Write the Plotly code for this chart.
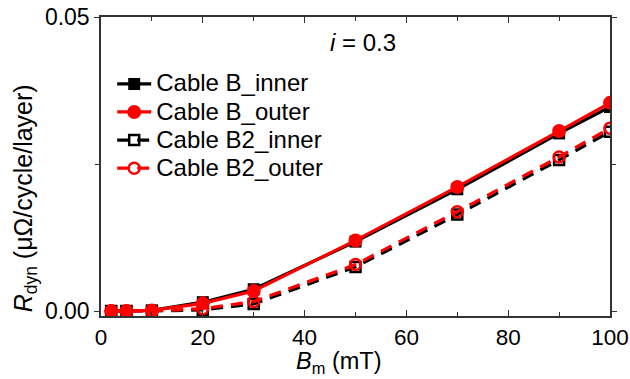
import plotly.graph_objects as go

bm = [2, 5, 10, 20, 30, 50, 70, 90, 100]
b_inner = [0.0, 0.0, 0.0001, 0.0015, 0.0037, 0.0118, 0.0207, 0.0302, 0.0347]
b_outer = [0.0, 0.0, 0.0001, 0.0013, 0.0034, 0.0120, 0.0211, 0.0306, 0.0354]
b2_inner = [0.0, 0.0, 0.0, 0.0002, 0.0012, 0.0075, 0.0164, 0.0257, 0.0305]
b2_outer = [0.0, 0.0, 0.0, 0.0004, 0.0016, 0.0079, 0.0169, 0.0262, 0.0311]

FONT = "Liberation Sans, Arial, sans-serif"
RED = "#ff0000"
AX = "#333333"


def lbl(s):
    return "<span style='font-size:24px'>" + s + "</span>"


fig = go.Figure()
fig.add_trace(go.Scatter(x=bm, y=b_inner, name=lbl("Cable B_inner"), mode="lines+markers",
                         line=dict(color="black", width=3.2),
                         marker=dict(symbol="square", size=12, color="black"), legendrank=1))
fig.add_trace(go.Scatter(x=bm, y=b2_inner, name=lbl("Cable B2_inner"), mode="lines+markers",
                         line=dict(color="black", width=3.2, dash="12px,8px"),
                         marker=dict(symbol="square-open", size=10, color="black",
                                     line=dict(width=2.5)), legendrank=3))
fig.add_trace(go.Scatter(x=bm, y=b_outer, name=lbl("Cable B_outer"), mode="lines+markers",
                         line=dict(color=RED, width=3.2),
                         marker=dict(symbol="circle", size=14, color=RED), legendrank=2))
fig.add_trace(go.Scatter(x=bm, y=b2_outer, name=lbl("Cable B2_outer"), mode="lines+markers",
                         line=dict(color=RED, width=3.2, dash="12px,8px"),
                         marker=dict(symbol="circle-open", size=11, color=RED,
                                     line=dict(width=2.5)), legendrank=4))

fig.update_layout(
    width=630, height=379,
    margin=dict(l=101, r=20, t=17, b=63, autoexpand=False),
    paper_bgcolor="white", plot_bgcolor="white",
    font=dict(family=FONT, size=22, color="black"),
    showlegend=True,
    legend=dict(x=0.022, y=0.84, xanchor="left", yanchor="top",
                bgcolor="rgba(0,0,0,0)", font=dict(size=19.3, family=FONT),
                itemwidth=34, tracegroupgap=0),
    xaxis=dict(range=[0, 100], tickvals=[0, 20, 40, 60, 80, 100],
               ticks="inside", ticklen=6, tickwidth=1, tickcolor=AX,
               showline=True, linecolor=AX, linewidth=1.5, mirror="ticks",
               showgrid=False, zeroline=False, automargin=False,
               minor=dict(dtick=10, ticks="inside", ticklen=4, tickcolor=AX),
               tickfont=dict(size=22.5, family=FONT)),
    yaxis=dict(range=[-0.00085, 0.05], tickvals=[0, 0.05], ticktext=["0.00", "0.05"],
               ticks="outside", ticklen=5, tickwidth=1, tickcolor=AX,
               showline=True, linecolor=AX, linewidth=1.5, mirror="ticks",
               showgrid=False, zeroline=False, automargin=False,
               minor=dict(tickvals=[0.025], ticks="outside", ticklen=4, tickcolor=AX),
               tickfont=dict(size=23, family=FONT)),
    annotations=[
        dict(x=0.515, y=0.916, xref="paper", yref="paper", text="<i>i</i> = 0.3",
             xanchor="center", yanchor="middle",
             showarrow=False, font=dict(size=24, family=FONT)),
        dict(x=0.468, y=-0.2074, xref="paper", yref="paper",
             xanchor="center", yanchor="bottom", borderpad=0,
             text="<i>B</i><sub>m</sub> (mT)", showarrow=False,
             font=dict(size=23.5, family=FONT)),
        dict(x=-0.149, y=0.394, xref="paper", yref="paper", textangle=-90,
             xanchor="center", yanchor="middle",
             text="<i>R</i><sub>dyn</sub> (μΩ/cycle/layer)", showarrow=False,
             font=dict(size=25, family=FONT)),
    ],
)

fig.write_html("out.html")
